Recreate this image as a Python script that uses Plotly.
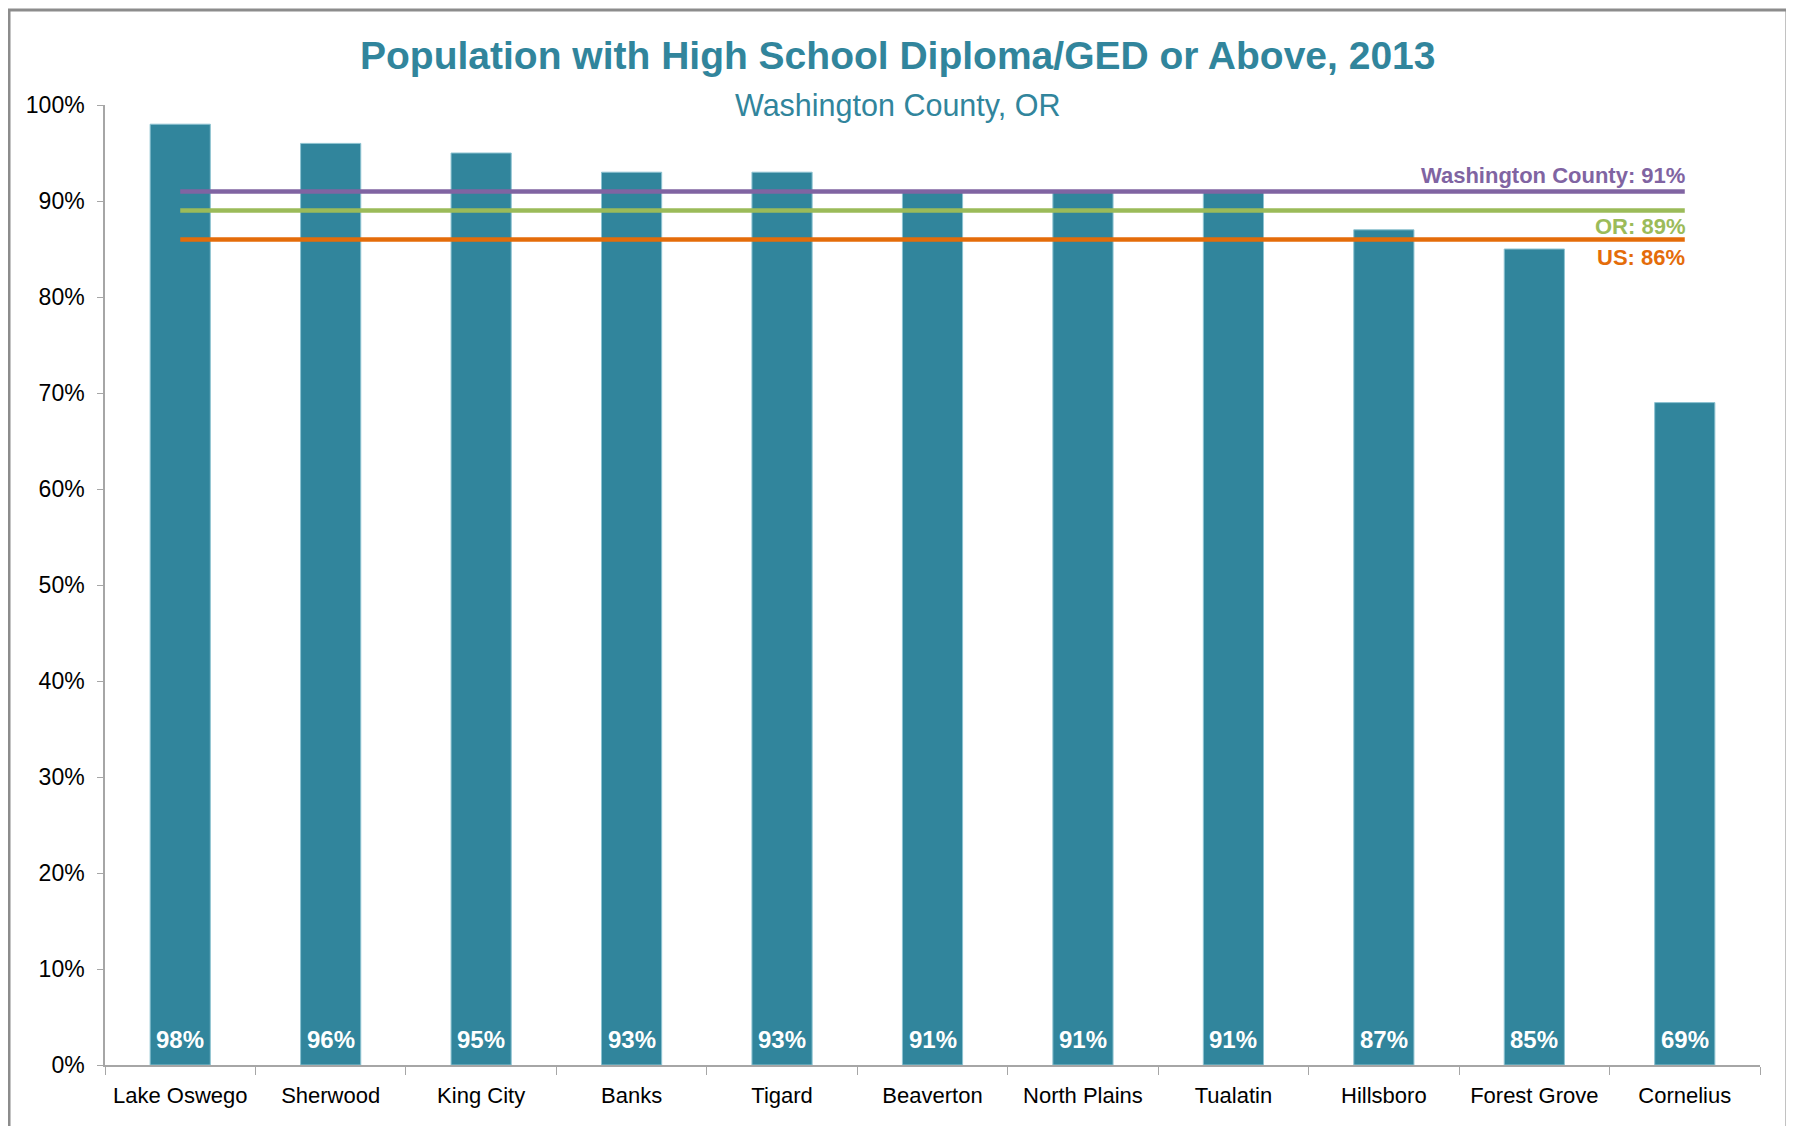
import plotly.graph_objects as go

cities = ["Lake Oswego", "Sherwood", "King City", "Banks", "Tigard", "Beaverton",
          "North Plains", "Tualatin", "Hillsboro", "Forest Grove", "Cornelius"]
values = [0.98, 0.96, 0.95, 0.93, 0.93, 0.91, 0.91, 0.91, 0.87, 0.85, 0.69]

ref_names = ["Washington County", "OR", "US"]
ref_values = [0.91, 0.89, 0.86]
ref_colors = ["#8064A2", "#9BBB59", "#E46C0A"]

y_ticks = [0, 0.1, 0.2, 0.3, 0.4, 0.5, 0.6, 0.7, 0.8, 0.9, 1.0]

TEAL = "#31859C"
FONT = "Liberation Sans, Arial, sans-serif"

fig = go.Figure()
fig.add_trace(go.Bar(
    x=cities, y=values,
    marker=dict(color=TEAL, line=dict(color="#8DC3D1", width=1)),
    width=0.4, hoverinfo="skip", showlegend=False,
))

for name, val, col in zip(ref_names, ref_values, ref_colors):
    fig.add_trace(go.Scatter(
        x=[cities[0], cities[-1]], y=[val, val], mode="lines",
        line=dict(color=col, width=4.5), showlegend=False, hoverinfo="skip",
    ))

annotations = []
for c, v in zip(cities, values):
    annotations.append(dict(
        x=c, y=0, xref="x", yref="y", text=f"<b>{round(v*100)}%</b>", showarrow=False,
        yanchor="bottom", yshift=10,
        font=dict(family=FONT, size=24, color="white"),
    ))

# label placement style: (yanchor, yshift) per reference line
label_style = [("bottom", 1), ("top", -1), ("top", -4)]
for name, val, col, (anc, shift) in zip(ref_names, ref_values, ref_colors, label_style):
    annotations.append(dict(
        x=cities[-1], y=val, xref="x", yref="y", text=f"<b>{name}: {round(val*100)}%</b>",
        showarrow=False, xanchor="right", xshift=2,
        yanchor=anc, yshift=shift,
        font=dict(family=FONT, size=22, color=col),
    ))

annotations.append(dict(
    x=0.479, y=1.052, xref="paper", yref="paper", xanchor="center", yanchor="middle",
    text="<b>Population with High School Diploma/GED or Above, 2013</b>", showarrow=False,
    font=dict(family=FONT, size=39, color=TEAL),
))
annotations.append(dict(
    x=0.479, y=1.0, xref="paper", yref="paper", xanchor="center", yanchor="middle",
    text="Washington County, OR", showarrow=False,
    font=dict(family=FONT, size=30.5, color=TEAL),
))

fig.update_layout(
    width=1794, height=1126,
    margin=dict(l=97, r=42, t=97, b=69),
    paper_bgcolor="white", plot_bgcolor="white",
    annotations=annotations,
    shapes=[dict(type="rect", xref="paper", yref="paper",
                 x0=-0.058, x1=1.0163, y0=-0.2, y1=1.099,
                 line=dict(color="#8C8C8C", width=3), layer="below")],
    bargap=0.6,
)
fig.update_xaxes(
    type="category", showline=True, linecolor="#A6A6A6", linewidth=1.5,
    ticks="outside", tickson="boundaries", ticklen=8, tickcolor="#A6A6A6",
    tickfont=dict(family=FONT, size=22, color="black"), showgrid=False,
    ticklabelstandoff=10, tickangle=0, automargin=False,
)
fig.update_yaxes(
    range=[0, 1], tickvals=y_ticks, tickformat=".0%", showline=True,
    linecolor="#A6A6A6", linewidth=1.5, ticks="outside", ticklen=6, tickcolor="#A6A6A6",
    tickfont=dict(family=FONT, size=23, color="black"), showgrid=False, zeroline=False,
    ticklabelstandoff=8, automargin=False,
)

fig.write_html("out.html")
